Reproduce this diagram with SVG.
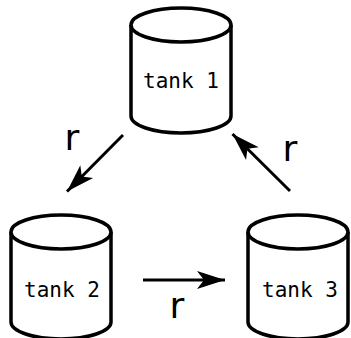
<svg xmlns="http://www.w3.org/2000/svg" width="351" height="338" viewBox="0 0 351 338">
<style>
.tank{fill:#fff;stroke:#000;stroke-width:3.5}
.lbl{font-family:"DejaVu Sans Mono",monospace;font-size:21px;text-anchor:middle;fill:#000}
.r{font-family:"DejaVu Sans",sans-serif;font-size:36px;text-anchor:middle;fill:#000}
.edge{stroke:#000;stroke-width:3;fill:none}
</style>
<defs>
<marker id="ah" markerUnits="userSpaceOnUse" markerWidth="32" markerHeight="22" viewBox="-30 -11 32 22" refX="0" refY="0" orient="auto">
<path d="M0,0 L-28,-9 L-21,0 L-28,9 Z" fill="#000"/>
</marker>
</defs>
<rect width="351" height="338" fill="#fff"/>
<g id="tank1">
<path class="tank" d="M131,25 L131,116 A50,17 0 0 0 231,116 L231,25"/>
<ellipse class="tank" cx="181" cy="25" rx="50" ry="17"/>
<text class="lbl" x="181" y="88">tank 1</text>
</g>
<g id="tank2">
<path class="tank" d="M11,232 L11,322 A50,17 0 0 0 111,322 L111,232"/>
<ellipse class="tank" cx="61" cy="232" rx="50" ry="17"/>
<text class="lbl" x="62" y="297">tank 2</text>
</g>
<g id="tank3">
<path class="tank" d="M248,232 L248,322 A50,17 0 0 0 348,322 L348,232"/>
<ellipse class="tank" cx="298" cy="232" rx="50" ry="17"/>
<text class="lbl" x="300" y="297">tank 3</text>
</g>
<g id="connectors">
<line class="edge" x1="123" y1="135" x2="67" y2="191.5" marker-end="url(#ah)"/>
<line class="edge" x1="290" y1="191" x2="232.5" y2="134" marker-end="url(#ah)"/>
<line class="edge" x1="143" y1="280" x2="225" y2="280" marker-end="url(#ah)"/>
<text class="r" x="72" y="150">r</text>
<text class="r" x="290" y="161">r</text>
<text class="r" x="177" y="318">r</text>
</g>
</svg>
